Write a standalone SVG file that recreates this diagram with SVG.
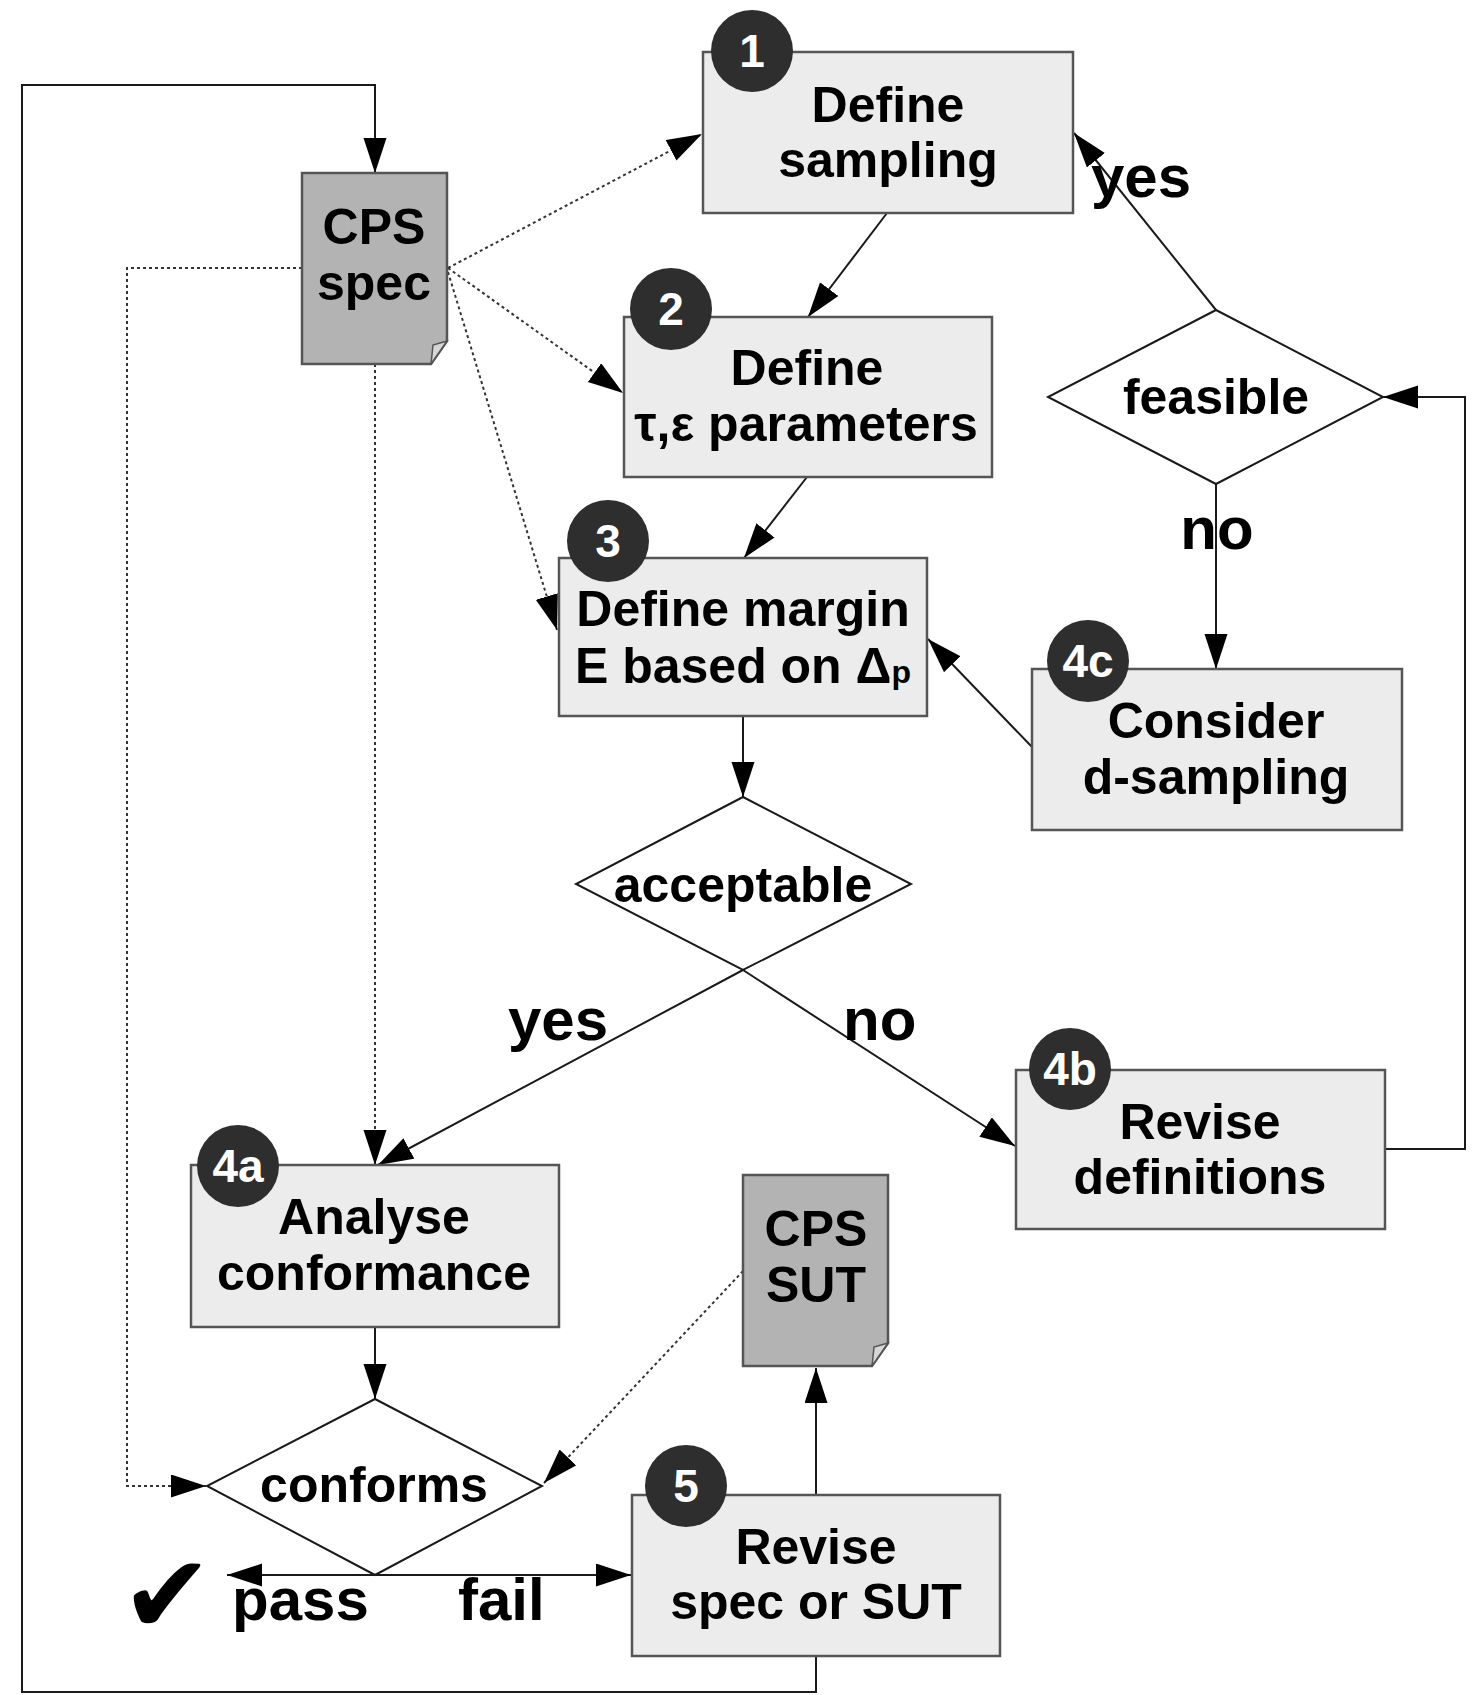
<svg xmlns="http://www.w3.org/2000/svg" width="1474" height="1695" viewBox="0 0 1474 1695">
<style>
text{font-family:"Liberation Sans",Arial,sans-serif;font-weight:bold;fill:#000}
.t{font-size:50px;text-anchor:middle}
.lbl{font-size:60px}
.num{font-size:46px;fill:#fff;text-anchor:middle}
.box{fill:#ececec;stroke:#555;stroke-width:2.5}
.doc{fill:#b3b3b3;stroke:#555;stroke-width:2.5}
.fold{fill:#d6d6d6;stroke:#555;stroke-width:1.5}
.dia{fill:#fff;stroke:#1a1a1a;stroke-width:2}
.badge{fill:#2e2e2e}
.c{fill:none;stroke:#1a1a1a;stroke-width:2}
.d{fill:none;stroke:#333;stroke-width:2;stroke-dasharray:3 3}
</style>
<defs>
<marker id="ah" markerUnits="userSpaceOnUse" markerWidth="36" markerHeight="24" refX="35" refY="11.5" orient="auto">
<path d="M0,0 L35,11.5 L0,23 Z" fill="#000" stroke="none"/>
</marker>
</defs>
<rect width="1474" height="1695" fill="#fff"/>

<g id="connectors">
<path class="c" d="M816,1656 V1692 H22 V85 H375 V173" marker-end="url(#ah)"/>
<path class="c" d="M887,213 L808,317" marker-end="url(#ah)"/>
<path class="c" d="M807,477 L744,558" marker-end="url(#ah)"/>
<path class="c" d="M743,716 V797" marker-end="url(#ah)"/>
<path class="c" d="M743,970 L378,1165" marker-end="url(#ah)"/>
<path class="c" d="M743,970 L1015,1146" marker-end="url(#ah)"/>
<path class="c" d="M1385,1149 H1465 V397 H1383" marker-end="url(#ah)"/>
<path class="c" d="M1216,484 V669" marker-end="url(#ah)"/>
<path class="c" d="M1216,310 L1074,133" marker-end="url(#ah)"/>
<path class="c" d="M1032,747 L928,639" marker-end="url(#ah)"/>
<path class="c" d="M375,1328 V1399" marker-end="url(#ah)"/>
<path class="c" d="M816,1495 V1368" marker-end="url(#ah)"/>
<path class="c" d="M375,1575 H227" marker-end="url(#ah)"/>
<path class="c" d="M375,1575 H631" marker-end="url(#ah)"/>
<path class="d" d="M448,268 L702,134" marker-end="url(#ah)"/>
<path class="d" d="M448,268 L623,393" marker-end="url(#ah)"/>
<path class="d" d="M448,272 L557,630" marker-end="url(#ah)"/>
<path class="d" d="M302,268 H127 V1486 H206" marker-end="url(#ah)"/>
<path class="d" d="M375,364 V1165" marker-end="url(#ah)"/>
<path class="d" d="M743,1271 L544,1483" marker-end="url(#ah)"/>
</g>

<g id="cps-spec">
<path class="doc" d="M302,173 H447 V341 L431,364 H302 Z"/>
<path class="fold" d="M447,341 L433,345 L431,364 Z"/>
<text class="t" x="374" y="244">CPS</text>
<text class="t" x="374" y="300">spec</text>
</g>

<g id="n1">
<rect class="box" x="703" y="52" width="370" height="161"/>
<circle class="badge" cx="752" cy="51" r="41"/>
<text class="num" x="752" y="67">1</text>
<text class="t" x="888" y="122">Define</text>
<text class="t" x="888" y="177">sampling</text>
</g>

<g id="n2">
<rect class="box" x="624" y="317" width="368" height="160"/>
<circle class="badge" cx="671" cy="309" r="41"/>
<text class="num" x="671" y="325">2</text>
<text class="t" x="807" y="385">Define</text>
<text class="t" x="806" y="441">τ,ε parameters</text>
</g>

<g id="n3">
<rect class="box" x="559" y="558" width="368" height="158"/>
<circle class="badge" cx="608" cy="541" r="41"/>
<text class="num" x="608" y="557">3</text>
<text class="t" x="743" y="626">Define margin</text>
<text class="t" x="743" y="683">E based on Δ<tspan font-size="32">p</tspan></text>
</g>

<g id="n4c">
<rect class="box" x="1032" y="669" width="370" height="161"/>
<circle class="badge" cx="1088" cy="661" r="41"/>
<text class="num" x="1088" y="677">4c</text>
<text class="t" x="1216" y="738">Consider</text>
<text class="t" x="1216" y="794">d-sampling</text>
</g>

<g id="feasible">
<path class="dia" d="M1216,310 L1383,397 L1216,484 L1048,397 Z"/>
<text class="t" x="1216" y="414">feasible</text>
</g>

<g id="acceptable">
<path class="dia" d="M743,797 L911,884 L743,970 L576,884 Z"/>
<text class="t" x="743" y="902">acceptable</text>
</g>

<g id="n4b">
<rect class="box" x="1016" y="1070" width="369" height="159"/>
<circle class="badge" cx="1070" cy="1069" r="41"/>
<text class="num" x="1070" y="1085">4b</text>
<text class="t" x="1200" y="1139">Revise</text>
<text class="t" x="1200" y="1194">definitions</text>
</g>

<g id="n4a">
<rect class="box" x="191" y="1165" width="368" height="162"/>
<circle class="badge" cx="238" cy="1166" r="41"/>
<text class="num" x="238" y="1182">4a</text>
<text class="t" x="374" y="1234">Analyse</text>
<text class="t" x="374" y="1290">conformance</text>
</g>

<g id="cps-sut">
<path class="doc" d="M743,1175 H888 V1343 L872,1366 H743 Z"/>
<path class="fold" d="M888,1343 L874,1347 L872,1366 Z"/>
<text class="t" x="816" y="1246">CPS</text>
<text class="t" x="816" y="1302">SUT</text>
</g>

<g id="conforms">
<path class="dia" d="M375,1399 L542,1486 L375,1575 L207,1486 Z"/>
<text class="t" x="374" y="1502">conforms</text>
</g>

<g id="n5">
<rect class="box" x="632" y="1495" width="368" height="161"/>
<circle class="badge" cx="686" cy="1486" r="41"/>
<text class="num" x="686" y="1502">5</text>
<text class="t" x="816" y="1564">Revise</text>
<text class="t" x="816" y="1619">spec or SUT</text>
</g>

<g id="labels">
<text class="lbl" x="1091" y="197">yes</text>
<text class="lbl" x="1217" y="549" text-anchor="middle">no</text>
<text class="lbl" x="508" y="1040">yes</text>
<text class="lbl" x="843" y="1040">no</text>
<text class="lbl" x="232" y="1620">pass</text>
<text class="lbl" x="458" y="1620">fail</text>
<text x="121" y="1633" style="font-family:'DejaVu Sans',sans-serif;font-size:110px;font-weight:normal">✔</text>
</g>
</svg>
